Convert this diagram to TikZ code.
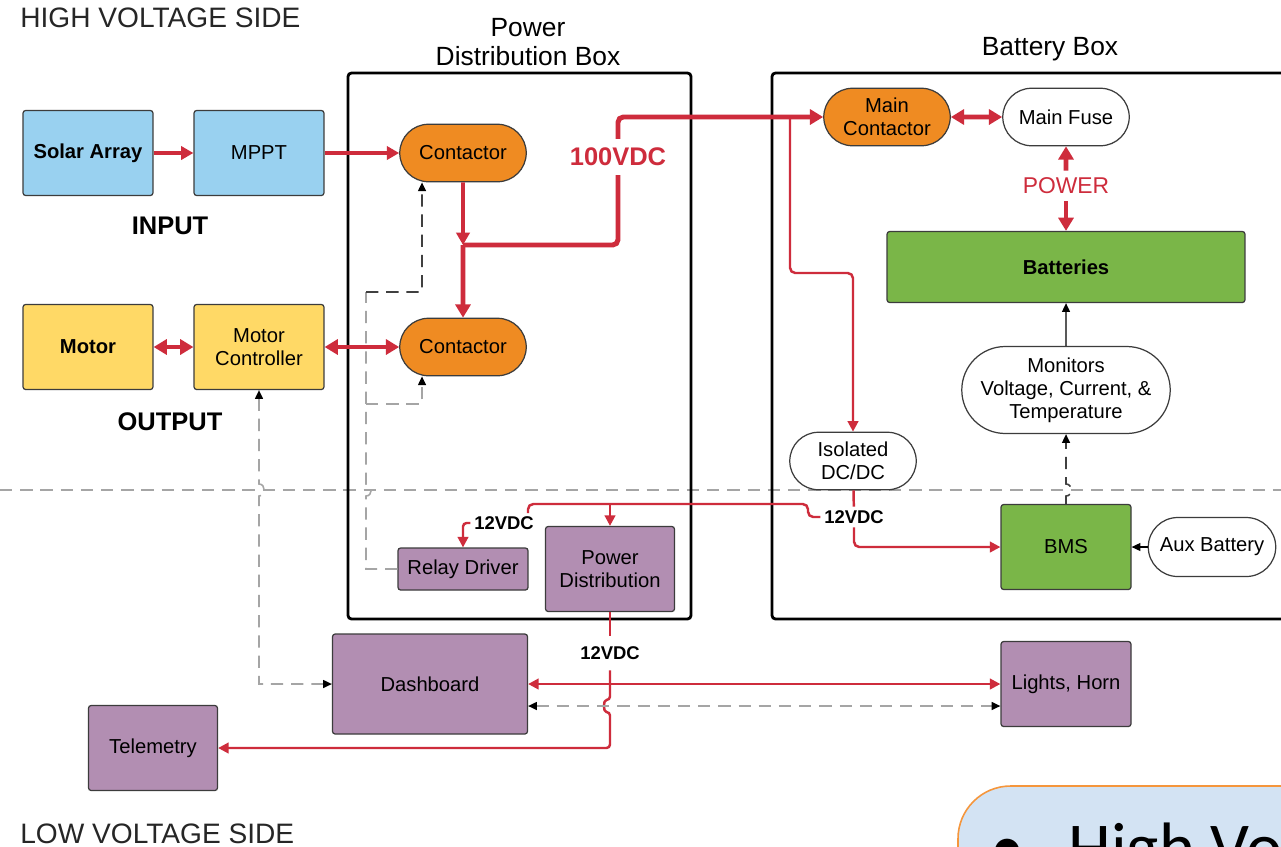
\documentclass[tikz,border=0pt]{standalone}
\usepackage{fontspec}
\setmainfont{Liberation Sans}
\newfontfamily\slidefont{Carlito}
\usepackage{tikz}
\usetikzlibrary{arrows.meta,shapes.misc}

\definecolor{wire}{RGB}{206,44,60}
\definecolor{edge}{RGB}{60,60,60}
\definecolor{skyfill}{RGB}{153,209,240}
\definecolor{sunfill}{RGB}{255,217,102}
\definecolor{relayfill}{RGB}{239,139,34}
\definecolor{cellfill}{RGB}{122,182,72}
\definecolor{lvfill}{RGB}{178,142,178}
\definecolor{sig}{RGB}{165,165,165}
\definecolor{bubble}{RGB}{211,227,243}
\definecolor{bubbleline}{RGB}{245,150,60}

\tikzset{
  blk/.style={draw=edge,line width=0.7pt,rounded corners=1.5pt,minimum width=2.6cm,minimum height=1.7cm,
    inner sep=1pt,align=center,font=\fontsize{11.5}{13}\selectfont},
  pill/.style={rounded rectangle,draw=edge,line width=0.7pt,minimum width=2.6cm,minimum height=1.15cm,
    inner sep=1pt,align=center,font=\fontsize{11.5}{13}\selectfont},
  hv/.style={draw=wire,line width=2.8pt,>={Triangle[length=7.5pt,width=8.5pt]}},
  hvm/.style={draw=wire,line width=2.2pt,>={Triangle[length=7pt,width=7.5pt]}},
  lv/.style={draw=wire,line width=1.4pt,>={Triangle[length=6pt,width=6pt]}},
  sigline/.style={draw=sig,line width=0.9pt,dash pattern=on 7pt off 4.5pt,>={Triangle[length=5pt,width=4.5pt,color=black]}},
  sigdark/.style={sigline,draw=black!75},
  enclosure/.style={draw=black,line width=1.6pt,rounded corners=2pt},
  vlab/.style={font=\bfseries\fontsize{10.5}{12}\selectfont,inner sep=2pt},
  side/.style={anchor=west,text=black!85,font=\fontsize{16}{18}\selectfont,inner sep=0pt},
  tag/.style={font=\bfseries\fontsize{14.5}{16}\selectfont}
}

\begin{document}
\begin{tikzpicture}[x=0.02cm,y=-0.02cm]
\useasboundingbox (0,0) rectangle (1281,846);
\clip (0,0) rectangle (1281,846);
\fill[white] (0,0) rectangle (1281,846);

\draw[sigline] (0,490) -- (1281,490);
\draw[enclosure] (348,73) rectangle (691,619);
\draw[enclosure] (772,73) rectangle (1330,619);

\node[side] at (20,18) {HIGH VOLTAGE SIDE};
\node[side] at (20,834) {LOW VOLTAGE SIDE};
\node[align=center,font=\fontsize{15}{16.5}\selectfont] at (528,42) {Power\\Distribution Box};
\node[font=\fontsize{15}{16.5}\selectfont] at (1050,49) {Battery Box};
\node[tag] at (170,226) {INPUT};
\node[tag] at (170,422) {OUTPUT};

\node[blk,fill=skyfill,font=\bfseries\fontsize{11.5}{13}\selectfont] (solar) at (88,153) {Solar Array};
\node[blk,fill=skyfill] (mppt) at (259,153) {MPPT};
\node[blk,fill=sunfill,font=\bfseries\fontsize{11.5}{13}\selectfont] (motor) at (88,347) {Motor};
\node[blk,fill=sunfill] (motorctl) at (259,347) {Motor\\Controller};
\node[pill,fill=relayfill] (contA) at (463,153) {Contactor};
\node[pill,fill=relayfill] (contB) at (463,347) {Contactor};
\node[blk,fill=lvfill,minimum height=0.84cm] (relay) at (463,569) {Relay Driver};
\node[blk,fill=lvfill,minimum width=2.58cm] (pdist) at (610,569) {Power\\Distribution};
\node[blk,fill=lvfill,minimum width=3.9cm,minimum height=2cm] (dash) at (430,684) {Dashboard};
\node[blk,fill=lvfill,minimum width=2.58cm] (telem) at (153,748) {Telemetry};
\node[blk,fill=lvfill] (lights) at (1066,684) {Lights, Horn};

\node[pill,fill=relayfill] (maincont) at (887,117) {Main\\Contactor};
\node[pill,fill=white] (fuse) at (1066,117) {Main Fuse};
\node[blk,fill=cellfill,minimum width=7.16cm,minimum height=1.42cm,font=\bfseries\fontsize{11.5}{13}\selectfont] (batt) at (1066,267) {Batteries};
\node[pill,fill=white,minimum width=4.24cm,minimum height=1.74cm] (monit) at (1066,390) {Monitors\\Voltage, Current, \&\\Temperature};
\node[pill,fill=white] (dcdc) at (853,461) {Isolated\\DC/DC};
\node[blk,fill=cellfill] (bms) at (1066,547) {BMS};
\node[pill,fill=white,minimum width=2.62cm,minimum height=1.18cm] (aux) at (1212,547) {Aux Battery};

\node[tag,text=wire,inner sep=5pt] (v100) at (618,157) {100VDC};
\node[text=wire,font=\fontsize{13}{15}\selectfont,inner sep=4pt] (pwr) at (1066,186) {POWER};
\node[vlab] (l12a) at (504,523) {12VDC};
\node[vlab] (l12b) at (854,517) {12VDC};
\node[vlab,inner sep=6pt] (l12c) at (610,653) {12VDC};

\coordinate (jn) at (463,245);
\coordinate (tap) at (790,117);
\coordinate (pdtap) at (610,504);
\coordinate (l12hook) at (528,513);
\coordinate (rtop) at (366,292);
\coordinate (rmid) at (366,404);

\draw[hvm,->] (solar) -- (mppt);
\draw[hvm,->] (mppt) -- (contA);
\draw[hv,<->] (motor) -- (motorctl);
\draw[hv,<->] (motorctl) -- (contB);
\draw[hvm,->] (contA) -- (jn);
\draw[hv,->] (jn) -- (contB);
\draw[hv,rounded corners=3pt] (jn) -| (v100);
\draw[hv,->,rounded corners=3pt] (v100) |- (maincont);
\draw[hv,<->] (maincont) -- (fuse);
\draw[hv,->] (pwr) -- (fuse);
\draw[hv,->] (pwr) -- (batt);

\draw[lv,->,rounded corners=3pt] (tap) -- (790,273) -| (dcdc);
\draw[lv] (dcdc) -- (l12b);
\draw[lv,->,rounded corners=3pt] (l12b) |- (bms);
\draw[lv,rounded corners=3pt] (l12b) -- (808,517) -- (808,504) -- (528,504) -- (l12hook);
\draw[lv,->,rounded corners=2pt] (l12a) -| (relay);
\draw[lv,->] (pdtap) -- (pdist);
\draw[lv] (pdist) -- (l12c);
\draw[lv,->,rounded corners=2pt] (l12c) -- (610,700) .. controls (603,700) and (603,712) .. (610,712) |- (telem);
\draw[lv,<->] (dash) -- (lights);

\draw[line width=0.8pt,-{Triangle[length=5pt,width=4.5pt]}] (monit) -- (batt);
\draw[line width=0.8pt,-{Triangle[length=5pt,width=4.5pt]}] (aux) -- (bms);
\draw[sigdark,->] (bms) -- (1066,496) .. controls (1073,496) and (1073,484) .. (1066,484) -- (monit);
\draw[sigline,<->] (motorctl) -- (259,484) .. controls (266,484) and (266,496) .. (259,496) |- (dash);
\draw[sigline,<->] ([yshift=-0.44cm]dash.east) -- ([yshift=-0.44cm]lights.west);
\draw[sigline] (relay) -- (366,569) -- (366,496) .. controls (373,496) and (373,484) .. (366,484) -- (rtop);
\draw[sigdark,->] (rtop) -- (422,292) -- ([xshift=-0.82cm]contA.south);
\draw[sigline,->] (rmid) -| ([xshift=-0.82cm]contB.south);

\draw[draw=bubbleline,fill=bubble,line width=0.9pt,rounded corners=30pt] (958,786) rectangle (1340,920);
\node[anchor=base west,inner sep=0pt,font=\slidefont\fontsize{39}{40}\selectfont] at (990,870) {\textbullet};
\node[anchor=base west,inner sep=0pt,font=\slidefont\fontsize{39}{40}\selectfont] at (1068,870) {High Vol};
\end{tikzpicture}
\end{document}
